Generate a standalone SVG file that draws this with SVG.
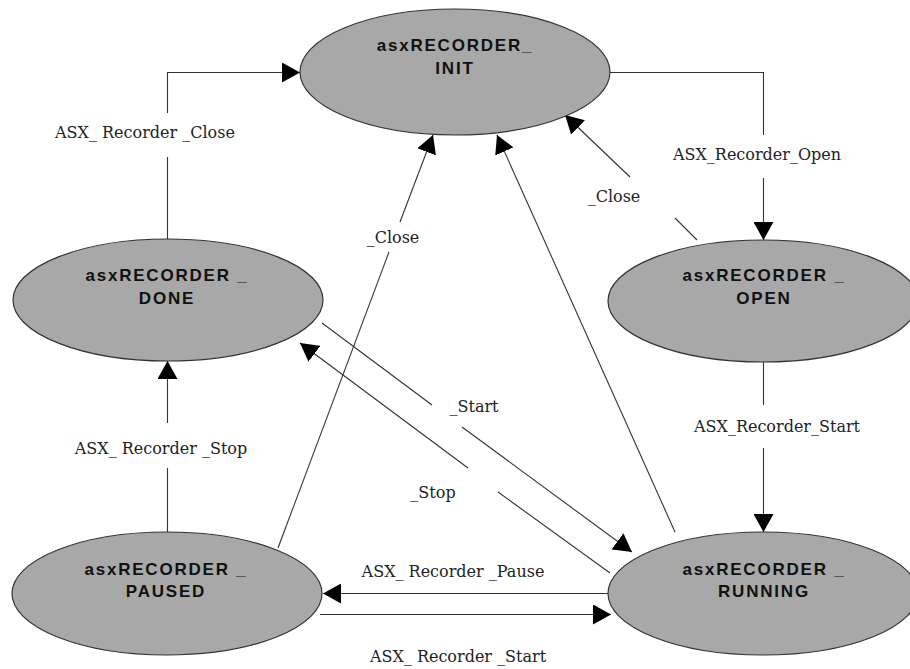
<svg xmlns="http://www.w3.org/2000/svg" width="910" height="669" viewBox="0 0 910 669">
<style>
.node ellipse{fill:#a8a8a8;stroke:#333;stroke-width:1.2}
.node text{font-family:"Liberation Sans",Arial,sans-serif;font-weight:bold;font-size:17px;letter-spacing:1.8px;fill:#111;text-anchor:middle}
.edges path{fill:none;stroke:#333;stroke-width:1.1}
.lbl{font-family:"DejaVu Serif","Liberation Serif",serif;font-size:16px;fill:#222;text-anchor:middle}
</style>
<defs>
<marker id="ah" viewBox="0 0 18 20" refX="18" refY="10" markerWidth="18" markerHeight="20" orient="auto" markerUnits="userSpaceOnUse">
<path d="M0,0 L18,10 L0,20 z" fill="#000"/>
</marker>
</defs>
<rect width="910" height="669" fill="#fff"/>
<g class="edges">
<g id="e-done-init"><path d="M167.5,239 V157"/><path d="M167.5,113 V72.5 H300" marker-end="url(#ah)"/><text class="lbl" x="145" y="138">ASX_ Recorder _Close</text></g>
<g id="e-init-open"><path d="M610,72.5 H763.5 V135"/><path d="M763.5,178 V240" marker-end="url(#ah)"/><text class="lbl" x="757" y="160">ASX_Recorder_Open</text></g>
<g id="e-open-init"><path d="M697,240 L675,218"/><path d="M630,177 L565,115" marker-end="url(#ah)"/><text class="lbl" x="614" y="202">_Close</text></g>
<g id="e-running-init"><path d="M675,532 L497,135" marker-end="url(#ah)"/></g>
<g id="e-paused-init"><path d="M278,548 L389,252"/><path d="M400,222 L433,135" marker-end="url(#ah)"/><text class="lbl" x="393" y="243">_Close</text></g>
<g id="e-done-running"><path d="M322,323 L432,405"/><path d="M462,427 L632,552" marker-end="url(#ah)"/><text class="lbl" x="474" y="412">_Start</text></g>
<g id="e-running-done"><path d="M610,573 L498,492"/><path d="M468,468 L300,343" marker-end="url(#ah)"/><text class="lbl" x="433" y="498">_Stop</text></g>
<g id="e-running-paused"><path d="M608,593.5 H323" marker-end="url(#ah)"/><text class="lbl" x="453" y="577">ASX_ Recorder _Pause</text></g>
<g id="e-paused-running"><path d="M320,614.5 H611" marker-end="url(#ah)"/><text class="lbl" x="458" y="662">ASX_ Recorder _Start</text></g>
<g id="e-paused-done"><path d="M167.5,532 V468"/><path d="M167.5,423 V361" marker-end="url(#ah)"/><text class="lbl" x="161" y="454">ASX_ Recorder _Stop</text></g>
<g id="e-open-running"><path d="M763.5,362 V405"/><path d="M763.5,448 V532" marker-end="url(#ah)"/><text class="lbl" x="777" y="432">ASX_Recorder_Start</text></g>
</g>
<g id="init" class="node"><ellipse cx="455" cy="72" rx="155" ry="63"/><text x="455" y="51">asxRECORDER_</text><text x="455" y="74">INIT</text></g>
<g id="done" class="node"><ellipse cx="168" cy="300" rx="155" ry="61"/><text x="167" y="281">asxRECORDER _</text><text x="167" y="304">DONE</text></g>
<g id="open" class="node"><ellipse cx="763" cy="301" rx="155" ry="61"/><text x="764" y="281">asxRECORDER _</text><text x="764" y="304">OPEN</text></g>
<g id="paused" class="node"><ellipse cx="167" cy="593.5" rx="155" ry="61.5"/><text x="166" y="575">asxRECORDER _</text><text x="166" y="597">PAUSED</text></g>
<g id="running" class="node"><ellipse cx="763" cy="593.5" rx="155" ry="61.5"/><text x="764" y="575">asxRECORDER _</text><text x="764" y="597">RUNNING</text></g>
</svg>
